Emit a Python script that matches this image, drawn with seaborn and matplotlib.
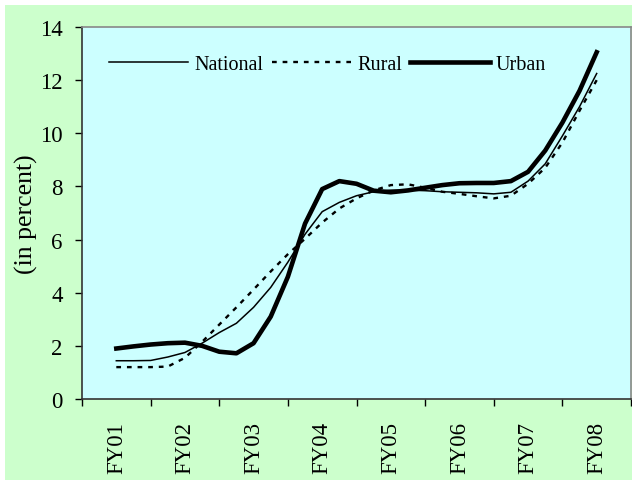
import numpy as np
import pandas as pd
import matplotlib
matplotlib.use("Agg")
import matplotlib.pyplot as plt
import seaborn as sns
from matplotlib.patches import Rectangle

# ----------------------------
# Data (quarterly readings, FY01 .. FY08)
# ----------------------------
years = ["FY01", "FY02", "FY03", "FY04", "FY05", "FY06", "FY07", "FY08"]
quarter_pos = np.arange(29) / 4.0  # 0 = FY01, 7 = FY08

national = [1.44, 1.44, 1.45, 1.58, 1.75, 2.10, 2.50, 2.85, 3.45, 4.20,
            5.15, 6.20, 7.05, 7.40, 7.65, 7.80, 7.86, 7.86, 7.84, 7.80,
            7.78, 7.76, 7.72, 7.78, 8.20, 8.85, 9.90, 11.00, 12.25]
rural = [1.20, 1.20, 1.20, 1.22, 1.55, 2.15, 2.80, 3.45, 4.12, 4.80,
         5.45, 6.03, 6.64, 7.17, 7.55, 7.85, 8.05, 8.08, 7.95, 7.80,
         7.72, 7.63, 7.55, 7.65, 8.10, 8.70, 9.65, 10.85, 12.00]
urban = [1.90, 1.98, 2.05, 2.10, 2.12, 2.00, 1.78, 1.72, 2.10, 3.10,
         4.60, 6.60, 7.90, 8.20, 8.10, 7.84, 7.78, 7.85, 7.95, 8.05,
         8.12, 8.13, 8.13, 8.20, 8.55, 9.35, 10.40, 11.60, 13.05]

df = pd.DataFrame({"x": quarter_pos, "National": national,
                   "Rural": rural, "Urban": urban})

plt.rcParams["font.family"] = ["Liberation Serif", "DejaVu Serif"]

fig = plt.figure(figsize=(6.32, 4.81), dpi=100, facecolor="white")
# green chart area (small white strip on top/left like the original)
bg = Rectangle((5 / 632, 0), 1, 1 - 6 / 481, transform=fig.transFigure,
               facecolor="#CCFFCC", edgecolor="none", zorder=-10)
fig.add_artist(bg)

ax = fig.add_axes([82 / 632, 1 - 400 / 481, (631 - 82) / 632, 372 / 481])
ax.set_zorder(1)
ax.set_facecolor("#CCFFFF")

sns.lineplot(data=df, x="x", y="National", ax=ax, color="black",
             linewidth=1.1, label="National")
sns.lineplot(data=df, x="x", y="Rural", ax=ax, color="black",
             linewidth=1.7, linestyle=(0, (2.0, 2.5)), label="Rural")
sns.lineplot(data=df, x="x", y="Urban", ax=ax, color="black",
             linewidth=3.3, label="Urban")

ax.set_xlim(-0.5, 7.5)
ax.set_ylim(0, 14)
ax.set_yticks(range(0, 15, 2))
ax.set_xticks(range(len(years)))
ax.set_xticklabels(years, rotation=90, fontsize=16.5)
ax.set_xticks(np.arange(-0.5, 8.0, 1.0), minor=True)
ax.tick_params(axis="x", which="major", length=0, pad=16)
ax.tick_params(axis="x", which="minor", length=5, direction="out", width=1)
ax.tick_params(axis="y", length=5, direction="out", labelsize=16.5,
               width=1, pad=9)
ax.set_xlabel("")
ax.set_ylabel("(in percent)", fontsize=18.5, labelpad=1)

for side in ["top", "right"]:
    ax.spines[side].set_color("#888888")
    ax.spines[side].set_linewidth(1.2)
for side in ["left", "bottom"]:
    ax.spines[side].set_color("#333333")
    ax.spines[side].set_linewidth(1.2)

ax.legend(loc="center", bbox_to_anchor=(0.447, 0.9005), ncol=3,
          frameon=False, fontsize=14.5, handlelength=3.95,
          handletextpad=0.3, columnspacing=0.4, borderaxespad=0)

plt.savefig("out.png", dpi=100, facecolor=fig.get_facecolor())
plt.close()
